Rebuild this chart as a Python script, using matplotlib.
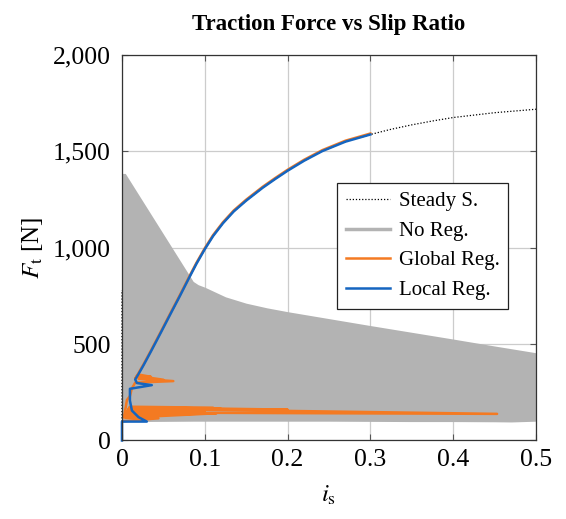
import numpy as np
import matplotlib
matplotlib.use("Agg")
import matplotlib.pyplot as plt
from matplotlib.ticker import FuncFormatter

plt.rcParams['font.family'] = ['Liberation Serif', 'DejaVu Serif']
plt.rcParams['mathtext.fontset'] = 'stix'

# main traction curve (shared by the regulated runs)
curve_x = [0.016, 0.02, 0.026, 0.035, 0.046, 0.06, 0.07, 0.081, 0.09, 0.1, 0.11, 0.122,
           0.135, 0.15, 0.17, 0.185, 0.2, 0.22, 0.242, 0.27, 0.3]
curve_y = [316, 345, 390, 462, 552, 668, 750, 843, 917, 992, 1060, 1127,
           1188, 1244, 1311, 1356, 1399, 1451, 1501, 1550, 1587]

# steady state: vertical part at i_s = 0, then the saturation curve
steady_x = [0, 0, np.nan] + curve_x[5:] + [0.325, 0.35, 0.375, 0.4, 0.45, 0.5]
steady_y = [98, 780, np.nan] + curve_y[5:] + [1614, 1637, 1657, 1675, 1700, 1718]

# no regulation: dense oscillation, drawn as its envelope
noreg_x = [0, 0.004, 0.086, 0.092, 0.1, 0.125, 0.15, 0.175, 0.2, 0.25, 0.3, 0.35,
           0.4, 0.45, 0.47, 0.5]
noreg_hi = [1385, 1385, 825, 808, 795, 745, 712, 688, 668, 632, 596, 561,
            526, 490, 476, 455]
noreg_lo = [98, 98, 100, 100, 100, 100, 100, 100, 100, 100, 99, 98,
            98, 97, 96, 100]

# global regulation (start-up spikes, then along the curve)
glob_x = [0, 0.002, 0.044, 0.004, 0.114, 0.005, 0.10, 0.006, 0.453, 0.008, 0.2, 0.009,
          0.12, 0.01, 0.08, 0.008, 0.11, 0.01,
          0.002, 0.008, 0.003, 0.006, 0.0096, 0.012, 0.016, 0.062, 0.02, 0.05, 0.018,
          0.035, 0.02] + curve_x
glob_y = [98, 100, 115, 118, 141, 130, 150, 145, 138, 165, 160, 172,
          163, 168, 156, 158, 170, 175,
          120, 150, 135, 210, 230, 270, 300, 308, 320, 315, 335,
          330, 342] + [v + 5 for v in curve_y]

# local regulation
loc_x = [0, 0, 0.030, 0.020, 0.012, 0.0096, 0.0096, 0.036, 0.018] + curve_x
loc_y = [0, 98, 98, 121, 155, 207, 268, 287, 298] + curve_y

fig = plt.figure(figsize=(5.66, 5.19), dpi=100)
ax = fig.add_axes([0.2155, 0.1513, 0.7315, 0.7430])

gray = '#b3b3b3'
orange = '#f47a22'
blue = '#1565c0'

ax.fill_between(noreg_x, noreg_lo, noreg_hi, color=gray, lw=0, zorder=1)
ax.plot(steady_x, steady_y, color='black', ls=(0, (1, 1.5)), lw=0.9, zorder=1.5,
        clip_on=False, label='Steady S.')
ax.plot([], [], color=gray, lw=2.5, label='No Reg.')
ax.plot(glob_x, glob_y, color=orange, lw=1.8, zorder=2, label='Global Reg.')
ax.plot(loc_x, loc_y, color=blue, lw=1.8, zorder=2.1, clip_on=False, label='Local Reg.')

ax.set_xlim(0, 0.5)
ax.set_ylim(0, 2000)
ax.set_xticks([0, 0.1, 0.2, 0.3, 0.4, 0.5])
ax.set_yticks([0, 500, 1000, 1500, 2000])
ax.xaxis.set_major_formatter(FuncFormatter(lambda v, p: f'{v:g}'))
ax.yaxis.set_major_formatter(FuncFormatter(lambda v, p: f'{v:,.0f}'))
ax.tick_params(direction='in', length=4, width=0.8, top=True, right=True,
               labelsize=18.5, color='#555555')
ax.tick_params(axis='x', pad=6)
ax.tick_params(axis='y', pad=8)
ax.grid(True, color='#cccccc', lw=0.9)
ax.set_axisbelow(True)
for s in ax.spines.values():
    s.set_linewidth(0.9)
    s.set_color('#333333')

ax.set_xlabel(r'$i_{\mathrm{s}}$', fontsize=18, labelpad=9)
ax.set_ylabel(r'$F_{\mathrm{t}}$ [N]', fontsize=18, labelpad=6)
ax.set_title('Traction Force vs Slip Ratio', fontsize=16.5, fontweight='bold', pad=18)

leg = ax.legend(loc='upper left', bbox_to_anchor=(0.519, 0.668), fontsize=15,
                frameon=True, fancybox=False, framealpha=1, edgecolor='#222222',
                handlelength=2.15, handletextpad=0.4, labelspacing=0.48,
                borderpad=0.42, borderaxespad=0)
leg.get_frame().set_linewidth(0.9)
leg.set_zorder(5)

fig.savefig('out.png', dpi=100)
